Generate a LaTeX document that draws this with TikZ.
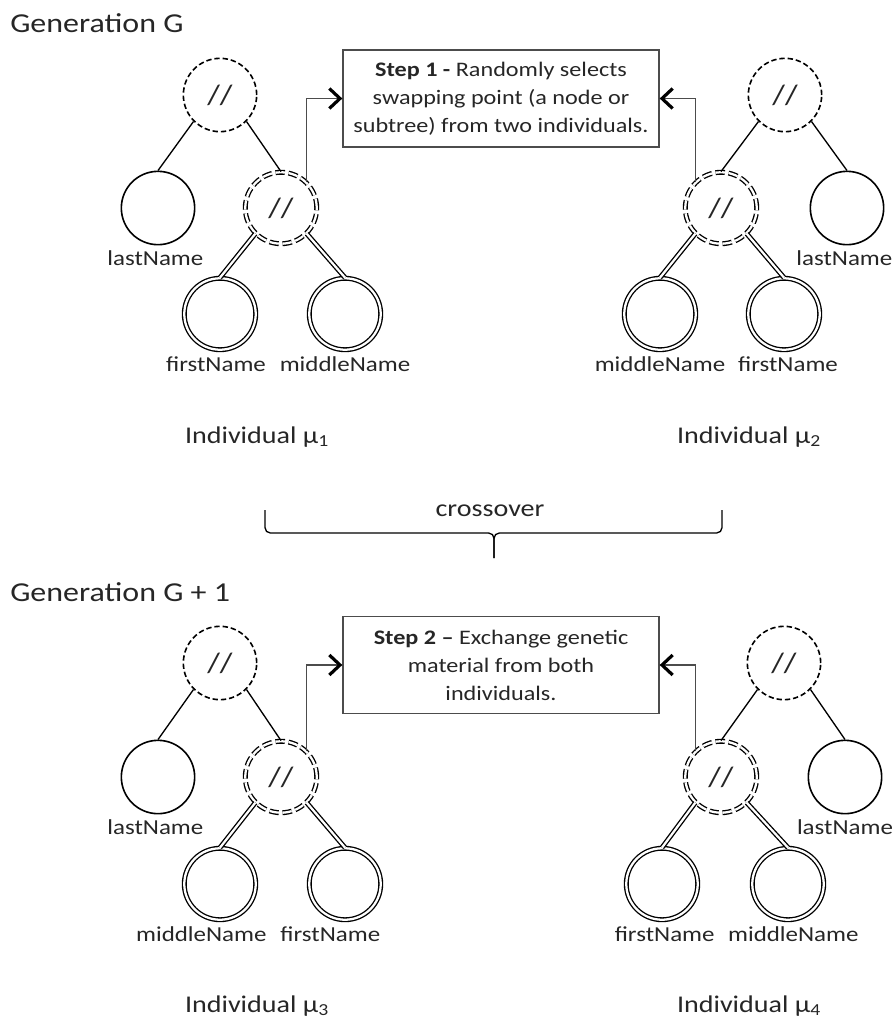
\documentclass[tikz,border=0pt]{standalone}
\usepackage{fontspec}
\setmainfont{Carlito}[FakeStretch=1.17]
\usetikzlibrary{arrows.meta, calc, positioning}
\tikzset{
    every node/.style={text=black!85},
    title/.style={anchor=base west, inner sep=0pt, font=\fontsize{20.5}{24}\selectfont},
    lbl/.style={anchor=base, inner sep=0pt, font=\fontsize{16}{19}\selectfont},
    biglbl/.style={anchor=base, inner sep=0pt, font=\fontsize{18}{21}\selectfont},
    opnode/.style={circle, draw, line width=1.2pt, dash pattern=on 4pt off 2.2pt, minimum size=55pt, inner sep=0pt, font=\fontsize{21}{24}\selectfont},
    selnode/.style={circle, draw, double, double distance=1.7pt, line width=1pt, dash pattern=on 7pt off 2.8pt, minimum size=53.6pt, inner sep=0pt, font=\fontsize{21}{24}\selectfont},
    leaf/.style={circle, draw, line width=1.2pt, minimum size=55pt, inner sep=0pt},
    subleaf/.style={circle, draw, double, double distance=1.7pt, line width=1pt, minimum size=53.6pt, inner sep=0pt},
    stepbox/.style={draw=black!70, line width=1pt, minimum width=237pt, minimum height=72.75pt, inner sep=0pt, align=center, font=\fontsize{15.5}{21}\selectfont},
    link/.style={line width=1pt},
    sublink/.style={double, double distance=1.7pt, line width=1pt},
    pointer/.style={draw=black!70, line width=1pt, -{Straight Barb[length=8pt, width=15pt, line width=2.4pt, color=black]}}
}

\begin{document}
\begin{tikzpicture}[x=0.75pt, y=-0.75pt]
            \useasboundingbox (0,0) rectangle (894,1025);

            \node[title] (genA) at (10,32) {Generation G};
            \node[title] (genB) at (10,601) {Generation G + 1};

            % generation G
            \node[stepbox] (boxA) at (501,98.5) {\textbf{Step 1 -} Randomly selects\\swapping point (a node or\\subtree) from two individuals.};

            \node[opnode] (rA) at (220,95) {//};
            \node[leaf] (lA) at (158,208) {};
            \node[selnode] (mA) at (281,208) {//};
            \node[subleaf] (cA1) at (220,314) {};
            \node[subleaf] (cA2) at (345,314) {};

            \node[opnode] (rB) at (785,95) {//};
            \node[leaf] (lB) at (847,208) {};
            \node[selnode] (mB) at (721,208) {//};
            \node[subleaf] (cB1) at (660,314) {};
            \node[subleaf] (cB2) at (784,314) {};

            \draw[link] (rA.south west) -- (lA.north);
            \draw[link] (rA.south east) -- (mA.north);
            \draw[sublink] (mA.south west) -- (cA1.north);
            \draw[sublink] (mA.south east) -- (cA2.north);
            \draw[link] (rB.south west) -- (mB.north);
            \draw[link] (rB.south east) -- (lB.north);
            \draw[sublink] (mB.south west) -- (cB1.north);
            \draw[sublink] (mB.south east) -- (cB2.north);

            \draw[pointer] (mA.north east) |- (boxA.west);
            \draw[pointer] (mB.north west) |- (boxA.east);

            \node[lbl] (tlA) at ([shift={(-2pt,-43pt)}]lA) {lastName};
            \node[lbl] (tcA1) at ([shift={(-3pt,-43pt)}]cA1) {firstName};
            \node[lbl] (tcA2) at ([shift={(0pt,-43pt)}]cA2) {middleName};
            \node[lbl] (tlB) at ([shift={(-2pt,-43pt)}]lB) {lastName};
            \node[lbl] (tcB1) at ([shift={(0pt,-43pt)}]cB1) {middleName};
            \node[lbl] (tcB2) at ([shift={(3pt,-43pt)}]cB2) {firstName};

            \node[biglbl] (indA) at (257,443) {Individual µ\textsubscript{1}};
            \node[biglbl] (indB) at (749,443) {Individual µ\textsubscript{2}};

            % crossover
            \coordinate (braceL) at (265,510);
            \coordinate (braceR) at (722,510);
            \coordinate (braceM) at (494,533);
            \coordinate (braceT) at (494,558);
            \draw[link, rounded corners=4pt] (braceL) |- (braceM) -- (braceT);
            \draw[link, rounded corners=4pt] (braceR) |- (braceM) -- (braceT);
            \node[biglbl] (cross) at (490,516) {crossover};

            % generation G + 1
            \node[stepbox] (boxC) at (501,665) {\textbf{Step 2 –} Exchange genetic\\material from both\\individuals.};

            \node[opnode] (rC) at (220,663) {//};
            \node[leaf] (lC) at (158,777) {};
            \node[selnode] (mC) at (281,777) {//};
            \node[subleaf] (cC1) at (220,884) {};
            \node[subleaf] (cC2) at (345,884) {};

            \node[opnode] (rD) at (784,663) {//};
            \node[leaf] (lD) at (845,777) {};
            \node[selnode] (mD) at (721,777) {//};
            \node[subleaf] (cD1) at (662,884) {};
            \node[subleaf] (cD2) at (788,884) {};

            \draw[link] (rC.south west) -- (lC.north);
            \draw[link] (rC.south east) -- (mC.north);
            \draw[sublink] (mC.south west) -- (cC1.north);
            \draw[sublink] (mC.south east) -- (cC2.north);
            \draw[link] (rD.south west) -- (mD.north);
            \draw[link] (rD.south east) -- (lD.north);
            \draw[sublink] (mD.south west) -- (cD1.north);
            \draw[sublink] (mD.south east) -- (cD2.north);

            \draw[pointer] (mC.north east) |- (boxC.west);
            \draw[pointer] (mD.north west) |- (boxC.east);

            \node[lbl] (tlC) at ([shift={(-2pt,-43pt)}]lC) {lastName};
            \node[lbl] (tcC1) at ([shift={(-14pt,-43pt)}]cC1) {middleName};
            \node[lbl] (tcC2) at ([shift={(-11pt,-43pt)}]cC2) {firstName};
            \node[lbl] (tlD) at ([shift={(0pt,-43pt)}]lD) {lastName};
            \node[lbl] (tcD1) at ([shift={(2pt,-43pt)}]cD1) {firstName};
            \node[lbl] (tcD2) at ([shift={(4pt,-43pt)}]cD2) {middleName};

            \node[biglbl] (indC) at (257,1012) {Individual µ\textsubscript{3}};
            \node[biglbl] (indD) at (749,1012) {Individual µ\textsubscript{4}};

        \end{tikzpicture}
\end{document}
